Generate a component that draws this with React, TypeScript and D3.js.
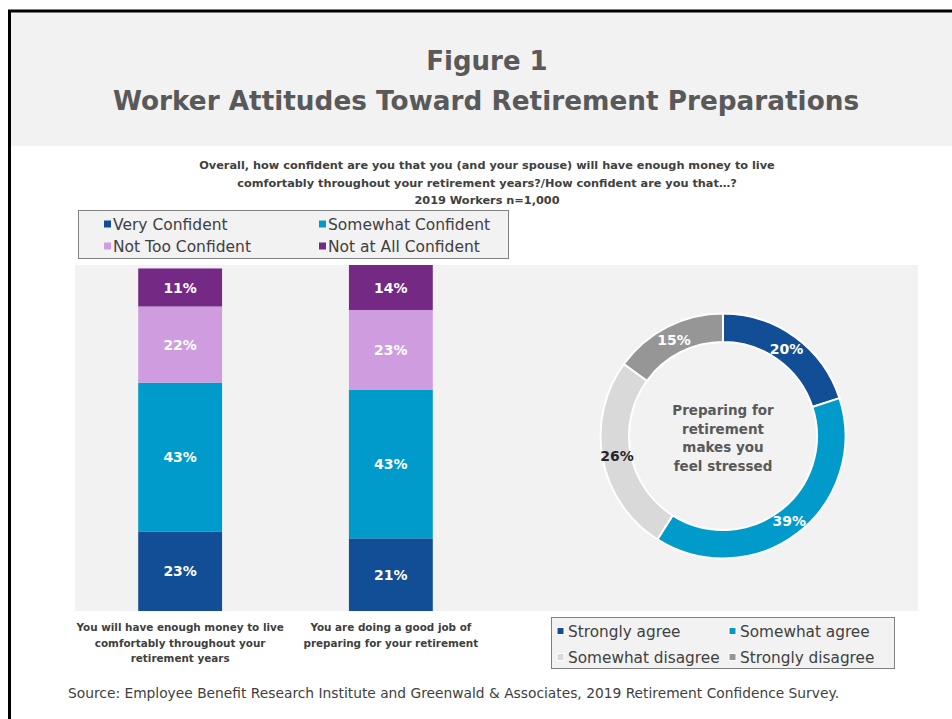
import React from "react";
import * as d3 from "d3";

const categories = [
  ["You will have enough money to live", "comfortably throughout your", "retirement years"],
  ["You are doing a good job of", "preparing for your retirement"],
];
const seriesNames = ["Very Confident", "Somewhat Confident", "Not Too Confident", "Not at All Confident"];
const veryConfident = [23, 21];
const somewhatConfident = [43, 43];
const notTooConfident = [22, 23];
const notAtAllConfident = [11, 14];
const barColors = ["#124e95", "#009bcb", "#cf9ddf", "#742a85"];

const donutNames = ["Strongly agree", "Somewhat agree", "Somewhat disagree", "Strongly disagree"];
const donutValues = [20, 39, 26, 15];
const donutColors = ["#124e95", "#009bcb", "#d9d9d9", "#969696"];
const donutLabelColors = ["#ffffff", "#ffffff", "#262626", "#ffffff"];
const donutCenterText = ["Preparing for", "retirement", "makes you", "feel stressed"];

const titleLines = ["Figure 1", "Worker Attitudes Toward Retirement Preparations"];
const subtitleLines = [
  "Overall, how confident are you that you (and your spouse) will have enough money to live",
  "comfortably throughout your retirement years?/How confident are you that\u2026?",
  "2019 Workers n=1,000",
];
const sourceText =
  "Source:  Employee Benefit Research Institute and Greenwald & Associates, 2019 Retirement Confidence Survey.";

const FONT = "'DejaVu Sans', Verdana, sans-serif";

export default function App() {
  const W = 952, H = 719;
  const series = [veryConfident, somewhatConfident, notTooConfident, notAtAllConfident];
  const keys = categories.map((_, i) => i);
  const x = d3.scaleBand<number>().domain(keys).range([75, 496]).paddingInner(0.602).paddingOuter(0.3);
  const y = d3.scaleLinear().domain([0, 100]).range([611, 265]).clamp(true);

  const rows = keys.map((i) => {
    const r: any = { idx: i };
    seriesNames.forEach((s, k) => (r[s] = series[k][i]));
    return r;
  });
  const stacked = d3.stack<any>().keys(seriesNames)(rows);

  const cx = 723, cy = 436, rOut = 122.5, rIn = 94;
  const pie = d3.pie<number>().sort(null).value((d) => d)(donutValues);
  const arc = d3.arc<any>().innerRadius(rIn).outerRadius(rOut);
  const labelArc = d3.arc<any>().innerRadius(108).outerRadius(108);

  return (
    <svg width={W} height={H} style={{ position: "absolute", left: 0, top: 0 }} fontFamily={FONT}>
      <rect x={0} y={0} width={W} height={H} fill="#ffffff" />
      {/* header */}
      <rect x={10} y={11} width={W} height={135} fill="#f2f2f2" />
      <line x1={9.5} y1={10} x2={9.5} y2={H} stroke="#000" strokeWidth={3} />
      <line x1={8} y1={11} x2={W} y2={11} stroke="#000" strokeWidth={3} />
      <text x={487} y={70} textAnchor="middle" fontSize={26} fontWeight="bold" fill="#595959">{titleLines[0]}</text>
      <text x={486} y={110} textAnchor="middle" fontSize={26.3} fontWeight="bold" fill="#595959">{titleLines[1]}</text>

      {subtitleLines.map((t, i) => (
        <text key={i} x={487} y={169 + i * 17.5} textAnchor="middle" fontSize={11.3} fontWeight="bold" fill="#404040">{t}</text>
      ))}

      {/* bar legend */}
      <rect x={78.5} y={210.5} width={430} height={48} fill="#f2f2f2" stroke="#808080" strokeWidth={1} />
      {seriesNames.map((s, k) => {
        const col = k % 2, row = Math.floor(k / 2);
        const lx = col === 0 ? 104 : 319;
        const ly = row === 0 ? 224 : 246;
        return (
          <g key={s}>
            <rect x={lx} y={ly - 3.5} width={7} height={7} fill={barColors[k]} />
            <text x={lx + 9} y={ly} dy="0.36em" fontSize={15.5} fill="#404040">{s}</text>
          </g>
        );
      })}

      {/* plot area */}
      <rect x={75} y={265} width={843} height={346} fill="#f2f2f2" />
      {stacked.map((layer, k) => (
        <g key={layer.key}>
          {layer.map((d: any, i: number) => {
            const y0 = y(d[0]), y1 = y(d[1]);
            return (
              <g key={i}>
                <rect x={x(i)} y={y1} width={x.bandwidth()} height={y0 - y1} fill={barColors[k]} />
                <text x={(x(i) as number) + x.bandwidth() / 2} y={(y0 + y1) / 2} dy="0.36em" textAnchor="middle"
                  fontSize={14} fontWeight="bold" fill="#ffffff">{series[k][i]}%</text>
              </g>
            );
          })}
        </g>
      ))}
      {categories.map((lines, i) => (
        <text key={i} textAnchor="middle" fontSize={10.4} fontWeight="bold" fill="#404040">
          {lines.map((l, j) => (
            <tspan key={j} x={(x(i) as number) + x.bandwidth() / 2} y={631 + j * 15.5}>{l}</tspan>
          ))}
        </text>
      ))}

      {/* donut */}
      <g transform={`translate(${cx},${cy})`}>
        {pie.map((p, k) => (
          <path key={k} d={arc(p) as string} fill={donutColors[k]} stroke="#ffffff" strokeWidth={2} />
        ))}
        {pie.map((p, k) => {
          const [lx, ly] = labelArc.centroid(p);
          return (
            <text key={k} x={lx} y={ly} dy="0.36em" textAnchor="middle" fontSize={14} fontWeight="bold" fill={donutLabelColors[k]}>
              {donutValues[k]}%
            </text>
          );
        })}
        {donutCenterText.map((t, i) => (
          <text key={i} x={0} y={-26 + i * 18.7} dy="0.36em" textAnchor="middle" fontSize={13.5} fontWeight="bold" fill="#595959">{t}</text>
        ))}
      </g>

      {/* donut legend */}
      <rect x={551.5} y={617.5} width={343} height={51} fill="#f2f2f2" stroke="#808080" strokeWidth={1} />
      {donutNames.map((s, k) => {
        const col = k % 2, row = Math.floor(k / 2);
        const lx = col === 0 ? 557 : 729;
        const ly = row === 0 ? 631 : 657;
        return (
          <g key={s}>
            <rect x={lx} y={ly - 3.5} width={7} height={7} fill={donutColors[k]} stroke="#ffffff" strokeWidth={1} />
            <text x={lx + 11} y={ly} dy="0.36em" fontSize={15.3} fill="#404040">{s}</text>
          </g>
        );
      })}

      <text x={68} y={693} dy="0.36em" fontSize={13.8} fill="#404040">{sourceText}</text>
    </svg>
  );
}
